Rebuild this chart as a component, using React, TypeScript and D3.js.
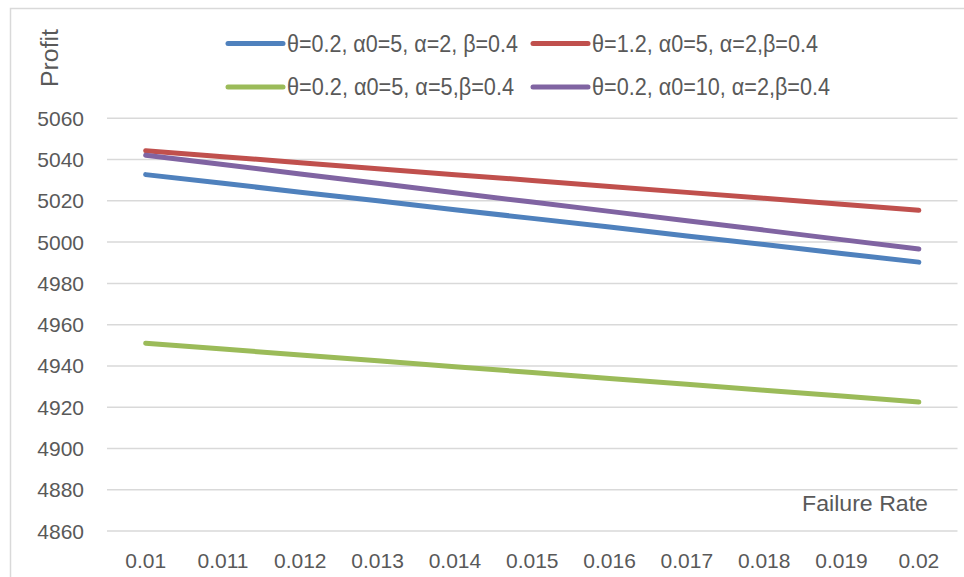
import React from "react";
import * as d3 from "d3";

const categories = ["0.01", "0.011", "0.012", "0.013", "0.014", "0.015", "0.016", "0.017", "0.018", "0.019", "0.02"];
const yTicks = [4860, 4880, 4900, 4920, 4940, 4960, 4980, 5000, 5020, 5040, 5060];

const seriesNames = [
  "θ=0.2, α0=5, α=2, β=0.4",
  "θ=1.2, α0=5, α=2,β=0.4",
  "θ=0.2, α0=5, α=5,β=0.4",
  "θ=0.2, α0=10, α=2,β=0.4",
];
const blueValues = [5032.7, 5028.5, 5024.2, 5020.0, 5015.7, 5011.5, 5007.3, 5003.0, 4998.8, 4994.5, 4990.3];
const redValues = [5044.3, 5041.4, 5038.5, 5035.6, 5032.7, 5029.9, 5027.0, 5024.1, 5021.2, 5018.3, 5015.4];
const greenValues = [4951.0, 4948.2, 4945.3, 4942.5, 4939.6, 4936.8, 4933.9, 4931.1, 4928.2, 4925.4, 4922.5];
const purpleValues = [5042.1, 5037.6, 5033.0, 5028.5, 5023.9, 5019.4, 5014.9, 5010.3, 5005.8, 5001.2, 4996.7];
const colors = ["#4f81bd", "#c0504d", "#9bbb59", "#8064a2"];

export default function App() {
  const W = 964, H = 577;
  const x = d3.scaleBand<string>().domain(categories).range([107, 957.5]);
  const y = d3.scaleLinear().domain([4860, 5060]).range([531, 118.3]);
  const line = d3.line<number>()
    .x((_, i) => (x(categories[i]) as number) + x.bandwidth() / 2)
    .y((d) => y(d));
  const series = [blueValues, redValues, greenValues, purpleValues];
  const legendPos = [
    { lx: 228, ly: 43.5, tx: 287, tl: 231 },
    { lx: 533, ly: 43.5, tx: 592, tl: 226 },
    { lx: 228, ly: 87, tx: 287, tl: 227 },
    { lx: 533, ly: 87, tx: 592, tl: 238 },
  ];
  const textColor = "#595959";
  const font = "'Liberation Sans', Arial, sans-serif";
  return (
    <svg width={W} height={H} style={{ position: "absolute", left: 0, top: 0, background: "#fff" }} fontFamily={font}>
      <rect x={10.5} y={8.5} width={1000} height={700} fill="#fff" stroke="#d9d9d9" strokeWidth={1.5} />
      {yTicks.map((t) => (
        <g key={t}>
          <line x1={107} x2={957.5} y1={y(t)} y2={y(t)} stroke="#d9d9d9" strokeWidth={1.5} />
          <text x={84} y={y(t)} dy="0.36em" textAnchor="end" fontSize={21} fill={textColor}>{t}</text>
        </g>
      ))}
      {categories.map((c) => (
        <text key={c} x={(x(c) as number) + x.bandwidth() / 2} y={568} textAnchor="middle" fontSize={21} fill={textColor}>{c}</text>
      ))}
      {series.map((s, i) => (
        <path key={i} d={line(s) || ""} fill="none" stroke={colors[i]} strokeWidth={5} strokeLinecap="round" strokeLinejoin="round" />
      ))}
      {seriesNames.map((n, i) => {
        const p = legendPos[i];
        return (
          <g key={n}>
            <line x1={p.lx} x2={p.lx + 55} y1={p.ly} y2={p.ly} stroke={colors[i]} strokeWidth={5} strokeLinecap="round" />
            <text x={p.tx} y={p.ly + 8} fontSize={23} fill={textColor} textLength={p.tl} lengthAdjust="spacingAndGlyphs">{n}</text>
          </g>
        );
      })}
      <text x={802} y={511} fontSize={22} fill={textColor} textLength={126} lengthAdjust="spacingAndGlyphs">Failure Rate</text>
      <text transform="translate(58,87) rotate(-90)" fontSize={23} fill={textColor} textLength={58} lengthAdjust="spacingAndGlyphs">Profit</text>
    </svg>
  );
}
